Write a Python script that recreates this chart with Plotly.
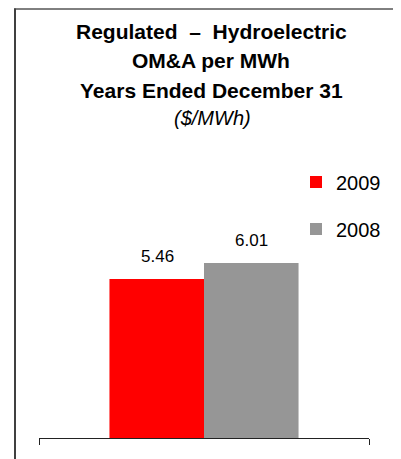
import plotly.graph_objects as go

# ---- data ----
categories = ["OM&A per MWh"]
series_names = ["2009", "2008"]
values_2009 = [5.46]
values_2008 = [6.01]
colors = ["#FF0000", "#969696"]
title_lines = ["Regulated  \u2013  Hydroelectric", "OM&A per MWh", "Years Ended December 31"]
subtitle = "($/MWh)"

OFF = 8  # page body margin offset
W, H = 401 - OFF, 459 - OFF
# plot area in page pixels: x 39..369, y 147..438
L = 39 - OFF
R = W - (369 - OFF)
T = 147 - OFF
B = H - (438 - OFF)
PW, PH = W - L - R, H - T - B
FONT = "Liberation Sans, Arial, sans-serif"

def px_x(px):  # page pixel -> paper
    return (px - OFF - L) / PW

def px_y(py):
    return (H - B - (py - OFF)) / PH

fig = go.Figure()
fig.add_trace(go.Bar(x=categories, y=values_2009, name=series_names[0],
                     marker=dict(color=colors[0], line=dict(width=0)), legend="legend"))
fig.add_trace(go.Bar(x=categories, y=values_2008, name=series_names[1],
                     marker=dict(color=colors[1], line=dict(width=0)), legend="legend2"))

annotations = []
for vals, shift in ((values_2009, -47), (values_2008, 47)):
    for c, v in zip(categories, vals):
        annotations.append(dict(x=c, y=v, xref="x", yref="y", text=f"{v:.2f}",
                                showarrow=False, xshift=shift, yshift=11, yanchor="bottom",
                                font=dict(family=FONT, size=17, color="#000000")))
for txt, py in zip(title_lines, (31, 60.5, 90)):
    annotations.append(dict(x=px_x(211), y=px_y(py), xref="paper", yref="paper", text=f"<b>{txt}</b>",
                            showarrow=False, xanchor="center", yanchor="middle",
                            font=dict(family=FONT, size=21, color="#000000")))
annotations.append(dict(x=px_x(213), y=px_y(118.5), xref="paper", yref="paper", text=f"<i>{subtitle}</i>",
                        showarrow=False, xanchor="center", yanchor="middle",
                        font=dict(family=FONT, size=20, color="#000000")))

shapes = [
    dict(type="line", xref="paper", yref="paper", x0=px_x(14), x1=px_x(402), y0=px_y(9), y1=px_y(9),
         line=dict(color="#000000", width=1)),
    dict(type="line", xref="paper", yref="paper", x0=px_x(15), x1=px_x(15), y0=px_y(8.5), y1=px_y(460),
         line=dict(color="#404040", width=2)),
]

leg_common = dict(font=dict(family=FONT, size=20, color="#000000"), bgcolor="rgba(0,0,0,0)",
                  borderwidth=0, xanchor="left", yanchor="middle", itemclick=False)

fig.update_layout(
    width=W, height=H,
    margin=dict(l=L, r=R, t=T, b=B, pad=0),
    paper_bgcolor="#FFFFFF", plot_bgcolor="#FFFFFF",
    barmode="group", bargap=0.427, bargroupgap=0,
    showlegend=True,
    legend=dict(x=px_x(296), y=px_y(182), **leg_common),
    legend2=dict(x=px_x(296), y=px_y(229), **leg_common),
    xaxis=dict(showline=True, linecolor="#222222", linewidth=1, showticklabels=False,
               ticks="outside", tickson="boundaries", ticklen=6, tickcolor="#222222", tickwidth=1,
               showgrid=False, zeroline=False, fixedrange=True),
    yaxis=dict(range=[0, 10], visible=False, showgrid=False, zeroline=False, fixedrange=True),
    annotations=annotations,
    shapes=shapes,
    font=dict(family=FONT),
)

fig.write_html("out.html")
